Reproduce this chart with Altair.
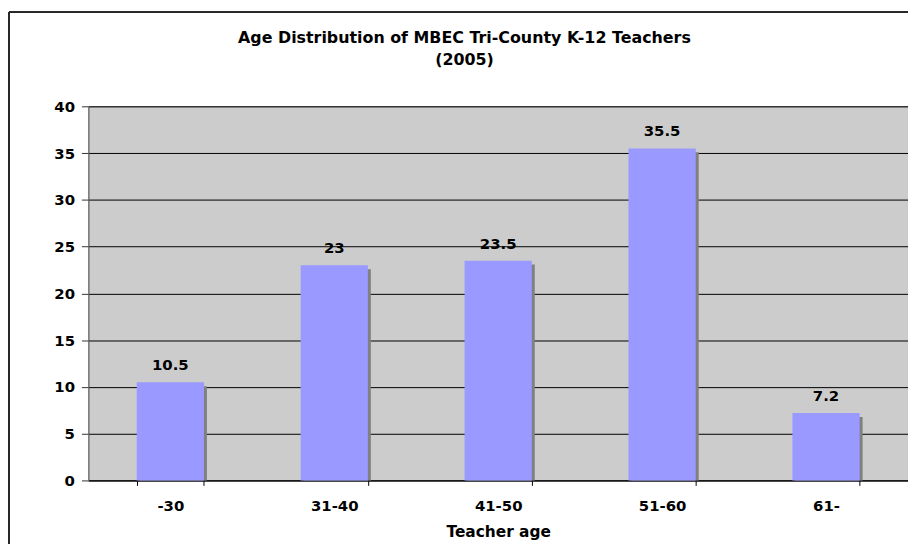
import altair as alt
import pandas as pd

categories = ["-30", "31-40", "41-50", "51-60", "61-"]
values = [10.5, 23, 23.5, 35.5, 7.2]
y_ticks = [0, 5, 10, 15, 20, 25, 30, 35, 40]

df = pd.DataFrame({"age": categories, "pct": values})

FONT = "DejaVu Sans"

xenc = alt.X(
    "age:N",
    sort=categories,
    scale=alt.Scale(paddingInner=0.59, paddingOuter=0.295),
    axis=alt.Axis(
        title="Teacher age",
        labelAngle=0,
        tickBand="extent",
        grid=False,
        domainColor="black",
        tickColor="black",
        tickSize=5,
        labelPadding=13,
        titlePadding=12,
        labelFont=FONT, labelFontSize=15, labelFontWeight="bold", labelColor="black",
        titleFont=FONT, titleFontSize=15.5, titleFontWeight="bold", titleColor="black",
    ),
)
yscale = alt.Scale(domain=[0, 40], nice=False)
yenc = alt.Y(
    "pct:Q",
    scale=yscale,
    axis=alt.Axis(
        title=None,
        values=y_ticks,
        grid=True,
        gridColor="black",
        gridOpacity=1,
        domainColor="#666666",
        tickColor="#333333",
        tickSize=7,
        labelPadding=7,
        labelFont=FONT, labelFontSize=15, labelFontWeight="bold", labelColor="black",
    ),
)

base = alt.Chart(df)

shadow = base.mark_bar(color="#808080", xOffset=3, yOffset=4, clip=True).encode(x=xenc, y=yenc)
bars = base.mark_bar(color="#9999FF").encode(x=xenc, y=yenc)
labels = base.mark_text(
    baseline="bottom", dy=-9, font=FONT, fontSize=15, fontWeight="bold", color="black"
).encode(x=xenc, y=yenc, text=alt.Text("pct:Q"))

# outer chart frame (only top and left edges fall inside the picture)
frame_top = alt.Chart(df).mark_rule(color="#222222", strokeWidth=1).encode(
    x=alt.value(-80), x2=alt.value(830), y=alt.value(-95)
)
frame_left = alt.Chart(df).mark_rule(color="#222222", strokeWidth=1).encode(
    x=alt.value(-80), y=alt.value(-95), y2=alt.value(460)
)

chart = alt.layer(shadow, bars, labels, frame_top, frame_left).properties(
    width=826,
    height=377,
    title=alt.Title(
        ["Age Distribution of MBEC Tri-County K-12 Teachers", "(2005)"],
        font=FONT, fontSize=16, fontWeight="bold", color="black",
        anchor="middle", dx=-34, offset=0, dy=57, lineHeight=22,
    ),
    padding={"left": 81, "top": 97, "right": 0, "bottom": 62},
    autosize=alt.AutoSizeParams(type="none"),
).configure_view(
    fill="#CCCCCC", stroke="#808080", strokeWidth=1
)

chart.save("out.html", embed_options={"renderer": "svg", "actions": False})
